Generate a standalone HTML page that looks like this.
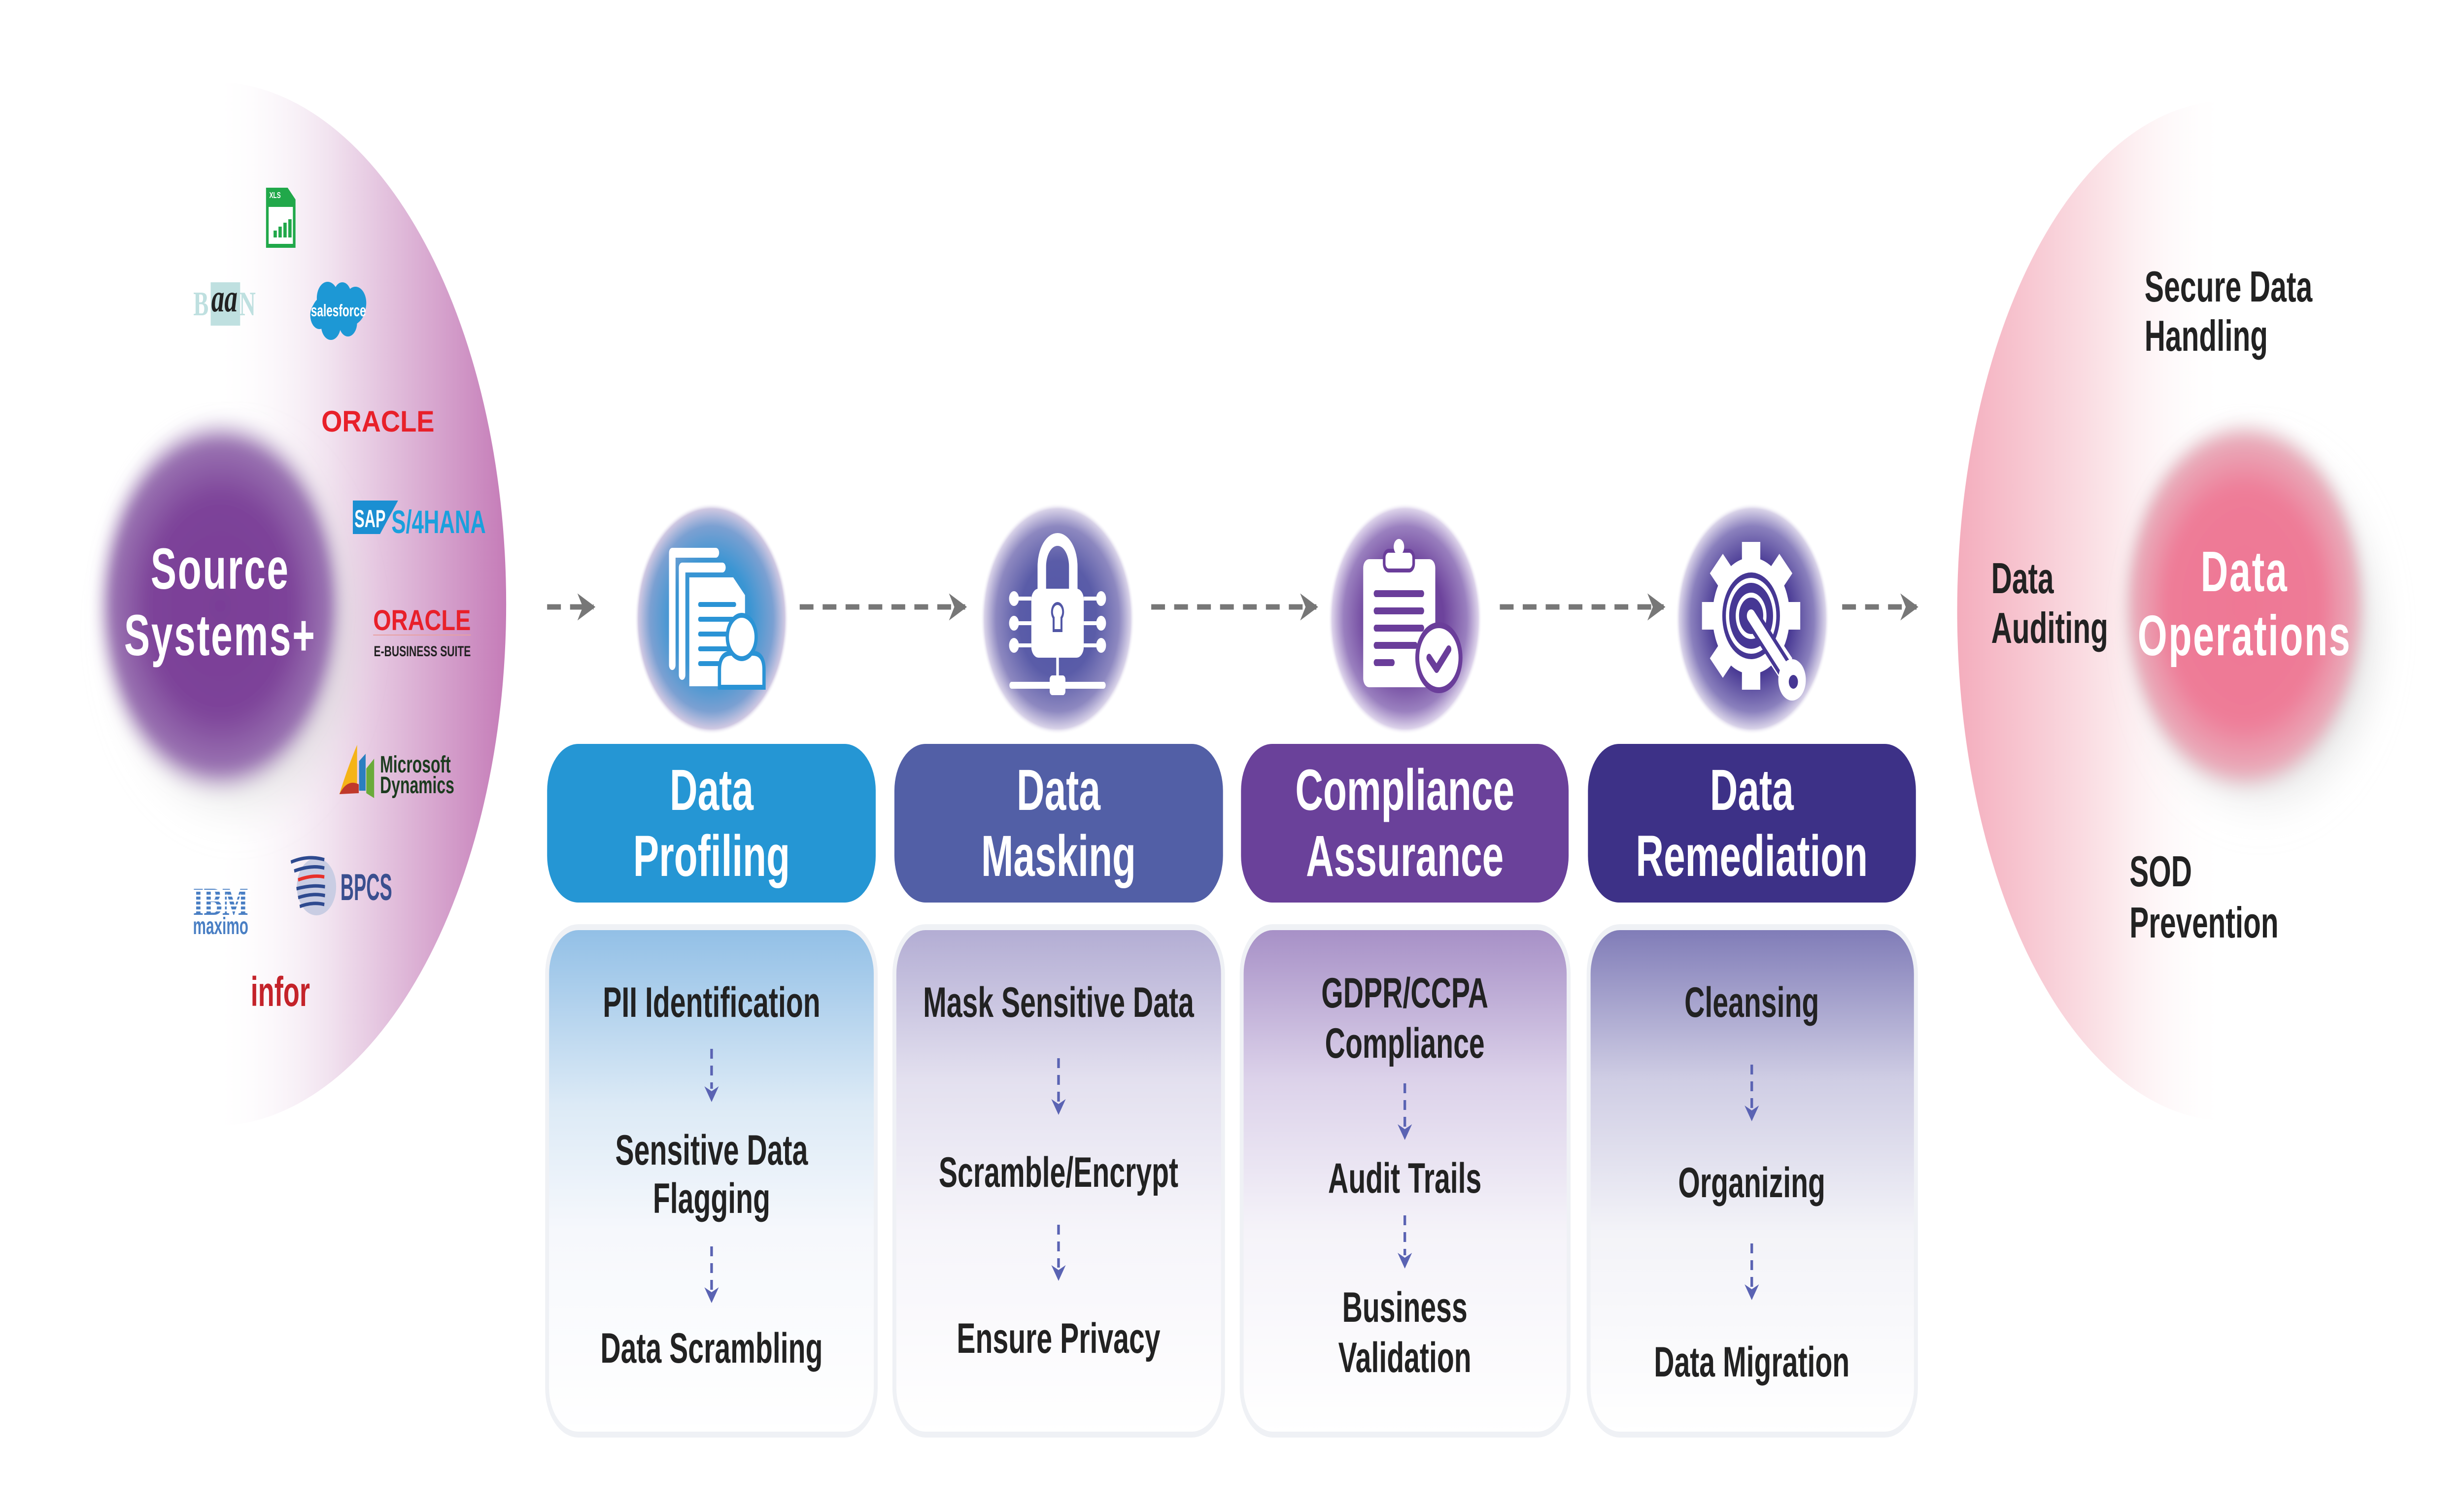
<!DOCTYPE html>
<html><head><meta charset="utf-8"><style>
html,body{margin:0;padding:0;background:#fff;width:100%;height:100%;overflow:hidden;}
svg{display:block;width:100vw;height:100vh;}
text{font-family:"Liberation Sans",sans-serif;font-weight:bold;}
</style></head><body>
<svg viewBox="0 0 7521 3061" preserveAspectRatio="none" xmlns="http://www.w3.org/2000/svg">
<defs>
<linearGradient id="lg" x1="0" y1="0" x2="1" y2="0" gradientUnits="objectBoundingBox">
<stop offset="0" stop-color="#fff" stop-opacity="0"/><stop offset="0.4" stop-color="#f1e2ef"/><stop offset="1" stop-color="#c57cb8"/></linearGradient>
<linearGradient id="rg" x1="0" y1="0" x2="1" y2="0">
<stop offset="0" stop-color="#f4adbd"/><stop offset="0.55" stop-color="#fbe4e8"/><stop offset="1" stop-color="#fff" stop-opacity="0"/></linearGradient>
<radialGradient id="srcG"><stop offset="0" stop-color="#7a3e97"/><stop offset="0.55" stop-color="#7d4399"/><stop offset="0.85" stop-color="#9a74b2"/><stop offset="1" stop-color="#d8cbe0" stop-opacity="0"/></radialGradient>
<radialGradient id="opG"><stop offset="0" stop-color="#ef7895"/><stop offset="0.6" stop-color="#ee7b97"/><stop offset="0.88" stop-color="#e9adbb"/><stop offset="1" stop-color="#e0d8da" stop-opacity="0"/></radialGradient>
<radialGradient id="shG"><stop offset="0.6" stop-color="#c8c8c8" stop-opacity="0.7"/><stop offset="1" stop-color="#ddd" stop-opacity="0"/></radialGradient>
<radialGradient id="c1"><stop offset="0" stop-color="#2a95d6"/><stop offset="0.5" stop-color="#3a95d3"/><stop offset="0.8" stop-color="#7ba0d2"/><stop offset="0.95" stop-color="#cfc8e2"/><stop offset="1" stop-color="#fff" stop-opacity="0"/></radialGradient>
<radialGradient id="c2"><stop offset="0" stop-color="#5257a6"/><stop offset="0.5" stop-color="#5a5ca8"/><stop offset="0.8" stop-color="#8d88c0"/><stop offset="0.95" stop-color="#d8d2e8"/><stop offset="1" stop-color="#fff" stop-opacity="0"/></radialGradient>
<radialGradient id="c3"><stop offset="0" stop-color="#6a3d9a"/><stop offset="0.5" stop-color="#6d439c"/><stop offset="0.8" stop-color="#9a80bf"/><stop offset="0.95" stop-color="#dcd2ea"/><stop offset="1" stop-color="#fff" stop-opacity="0"/></radialGradient>
<radialGradient id="c4"><stop offset="0" stop-color="#433390"/><stop offset="0.5" stop-color="#4a3b95"/><stop offset="0.8" stop-color="#8a80bd"/><stop offset="0.95" stop-color="#d8d2e8"/><stop offset="1" stop-color="#fff" stop-opacity="0"/></radialGradient>
<linearGradient id="b1" x1="0" y1="0" x2="0" y2="1"><stop offset="0" stop-color="#91bfe6"/><stop offset="0.35" stop-color="#dceaf6"/><stop offset="0.6" stop-color="#f6f8fc"/><stop offset="1" stop-color="#fff"/></linearGradient>
<linearGradient id="b2" x1="0" y1="0" x2="0" y2="1"><stop offset="0" stop-color="#b2acd3"/><stop offset="0.3" stop-color="#e3e0ef"/><stop offset="0.6" stop-color="#f6f5fa"/><stop offset="1" stop-color="#fff"/></linearGradient>
<linearGradient id="b3" x1="0" y1="0" x2="0" y2="1"><stop offset="0" stop-color="#a68fc6"/><stop offset="0.3" stop-color="#dcd2ea"/><stop offset="0.6" stop-color="#f5f3f9"/><stop offset="1" stop-color="#fff"/></linearGradient>
<linearGradient id="b4" x1="0" y1="0" x2="0" y2="1"><stop offset="0" stop-color="#7f7bb7"/><stop offset="0.3" stop-color="#cfcde4"/><stop offset="0.6" stop-color="#f3f3f8"/><stop offset="1" stop-color="#fff"/></linearGradient>
<filter id="bl" x="-20%" y="-20%" width="140%" height="140%"><feGaussianBlur stdDeviation="14"/></filter>
<filter id="bl2" x="-30%" y="-30%" width="160%" height="160%"><feGaussianBlur stdDeviation="35"/></filter>
<marker id="ah" viewBox="0 0 10 10" refX="9" refY="5" markerWidth="5" markerHeight="5" orient="auto" markerUnits="strokeWidth"><path d="M0,0 L10,5 L0,10 L3,5 z" fill="#777"/></marker>
</defs>

<path d="M650,166 A895,1060 0 0 1 650,2286 Z" fill="url(#lg)"/>
<path d="M6800,205 A826,1035 0 0 0 6800,2275 Z" fill="url(#rg)"/>

<ellipse cx="720" cy="1280" rx="420" ry="410" fill="url(#shG)" filter="url(#bl2)"/>
<circle cx="672" cy="1230" r="390" fill="url(#srcG)" filter="url(#bl)"/>
<text x="672" y="1195" font-size="118" fill="#fff" text-anchor="middle" letter-spacing="4">Source</text>
<text x="672" y="1330" font-size="118" fill="#fff" text-anchor="middle" letter-spacing="4">Systems+</text>

<g>
<path d="M812,381 H878 L902,405 V503 H812 Z" fill="#21a84a"/>
<rect x="820" y="420" width="74" height="75" fill="#fff"/>
<text x="822" y="402" font-size="18" fill="#fff">XLS</text>
<rect x="835" y="468" width="10" height="14" fill="#21a84a"/><rect x="850" y="460" width="10" height="22" fill="#21a84a"/><rect x="865" y="452" width="10" height="30" fill="#21a84a"/><rect x="880" y="445" width="10" height="37" fill="#21a84a"/>
</g>
<rect x="643" y="573" width="90" height="88" fill="#bfe0e0"/>
<text x="590" y="640" font-size="70" fill="#bfe0e0" font-weight="normal" style="font-family:'Liberation Serif',serif">B</text>
<text x="645" y="632" font-size="80" fill="#222" font-style="italic" font-weight="normal" style="font-family:'Liberation Serif',serif">aa</text>
<text x="730" y="640" font-size="70" fill="#bfe0e0" font-weight="normal" style="font-family:'Liberation Serif',serif">N</text>
<g fill="#1d98d5">
<ellipse cx="1033" cy="630" rx="80" ry="38"/><circle cx="1000" cy="605" r="33"/><circle cx="1045" cy="600" r="27"/><circle cx="1085" cy="615" r="33"/><circle cx="1062" cy="655" r="28"/><circle cx="1010" cy="660" r="30"/><circle cx="975" cy="640" r="28"/>
</g>
<text x="1033" y="642" font-size="34" fill="#fff" text-anchor="middle" font-weight="normal">salesforce</text>
<text x="981" y="876" font-size="60" fill="#e8202a" textLength="345" lengthAdjust="spacingAndGlyphs" font-weight="normal">ORACLE</text>
<path d="M1077,1016 H1215 L1160,1084 H1077 Z" fill="#1b8fd2"/>
<text x="1082" y="1070" font-size="50" fill="#fff" textLength="95" lengthAdjust="spacingAndGlyphs">SAP</text>
<text x="1195" y="1082" font-size="66" fill="#1aa0dd" textLength="288" lengthAdjust="spacingAndGlyphs">S/4HANA</text>
<text x="1139" y="1279" font-size="58" fill="#e8202a" textLength="298" lengthAdjust="spacingAndGlyphs" font-weight="normal">ORACLE</text>
<rect x="1139" y="1288" width="298" height="2" fill="#e8a0a0"/>
<text x="1141" y="1332" font-size="30" fill="#222" textLength="296" lengthAdjust="spacingAndGlyphs">E-BUSINESS SUITE</text>
<path d="M1036,1612 Q1060,1560 1090,1512 L1090,1605 Z" fill="#f5b417"/>
<path d="M1036,1612 Q1060,1580 1095,1592 L1095,1610 Z" fill="#c0392b"/>
<path d="M1096,1605 L1096,1545 L1116,1530 L1116,1605 Z" fill="#2a7fc0"/>
<path d="M1118,1610 L1118,1560 L1142,1540 L1142,1620 Z" fill="#6aab3a"/>
<text x="1160" y="1568" font-size="48" fill="#1c3b1f" font-weight="normal">Microsoft</text>
<text x="1160" y="1610" font-size="48" fill="#1c3b1f" font-weight="normal">Dynamics</text>
<ellipse cx="966" cy="1800" rx="60" ry="58" fill="#c9cde3"/>
<g stroke="#2e4a8f" stroke-width="7" fill="none"><path d="M888,1750 Q940,1735 990,1745"/><path d="M898,1768 Q950,1755 990,1762"/><path d="M910,1786 Q955,1775 990,1780" stroke="#e8302a"/><path d="M905,1804 Q955,1795 992,1800"/><path d="M910,1822 Q955,1812 992,1818"/><path d="M915,1840 Q955,1830 990,1836"/></g>
<text x="1039" y="1827" font-size="76" fill="#3a4f8f" textLength="158" lengthAdjust="spacingAndGlyphs" font-weight="normal">BPCS</text>
<text x="589" y="1857" font-size="80" fill="#4a7fc4" textLength="169" lengthAdjust="spacingAndGlyphs" style="font-family:'Liberation Serif',serif">IBM</text>
<g fill="#fff"><rect x="585" y="1806" width="180" height="4"/><rect x="585" y="1816" width="180" height="4"/><rect x="585" y="1826" width="180" height="4"/><rect x="585" y="1836" width="180" height="4"/><rect x="585" y="1846" width="180" height="4"/></g>
<text x="589" y="1896" font-size="48" fill="#4a7fc4" textLength="169" lengthAdjust="spacingAndGlyphs" font-weight="normal">maximo</text>
<text x="765" y="2042" font-size="84" fill="#c4232a" textLength="181" lengthAdjust="spacingAndGlyphs">infor</text>

<g stroke="#777" stroke-width="11" stroke-dasharray="42 28" fill="none" marker-end="url(#ah)">
<line x1="1670" y1="1232" x2="1812" y2="1232"/>
<line x1="2441" y1="1232" x2="2946" y2="1232"/>
<line x1="3514" y1="1232" x2="4018" y2="1232"/>
<line x1="4578" y1="1232" x2="5078" y2="1232"/>
<line x1="5623" y1="1232" x2="5850" y2="1232"/>
</g>

<circle cx="2172" cy="1256" r="235" fill="url(#c1)"/>
<circle cx="3228" cy="1256" r="235" fill="url(#c2)"/>
<circle cx="4289" cy="1256" r="235" fill="url(#c3)"/>
<circle cx="5349" cy="1256" r="235" fill="url(#c4)"/>

<g>
<path d="M2052,1350 V1122 H2185" stroke="#fff" stroke-width="20" fill="none" stroke-linecap="round" stroke-linejoin="round"/>
<path d="M2082,1370 V1152 H2205" stroke="#fff" stroke-width="20" fill="none" stroke-linecap="round" stroke-linejoin="round"/>
<path d="M2104,1172 H2238 L2274,1208 V1393 H2104 Z" fill="#fff"/>
<g stroke="#2a93d5" stroke-width="10" stroke-linecap="round"><line x1="2136" y1="1227" x2="2242" y2="1227"/><line x1="2136" y1="1257" x2="2242" y2="1257"/><line x1="2136" y1="1287" x2="2230" y2="1287"/><line x1="2136" y1="1317" x2="2230" y2="1317"/><line x1="2136" y1="1347" x2="2230" y2="1347"/></g>
<path d="M2196,1395 V1360 Q2196,1326 2232,1326 H2298 Q2332,1326 2332,1360 V1395 Z" fill="#fff" stroke="#2a93d5" stroke-width="10"/>
<circle cx="2264" cy="1293" r="44" fill="#fff" stroke="#2a93d5" stroke-width="10"/>
</g>

<g>
<path d="M3180,1200 V1150 A48,55 0 0 1 3276,1150 V1200" stroke="#fff" stroke-width="26" fill="none"/>
<rect x="3148" y="1195" width="160" height="140" rx="22" fill="#fff"/>
<path d="M3228,1225 a17,17 0 0 1 12,29 v26 h-24 v-26 a17,17 0 0 1 12,-29 z" fill="none" stroke="#5257a6" stroke-width="6"/>
<g stroke="#fff" stroke-width="8" fill="#fff">
<line x1="3100" y1="1215" x2="3148" y2="1215"/><line x1="3100" y1="1265" x2="3148" y2="1265"/><line x1="3100" y1="1310" x2="3148" y2="1310"/>
<line x1="3308" y1="1215" x2="3356" y2="1215"/><line x1="3308" y1="1265" x2="3356" y2="1265"/><line x1="3308" y1="1310" x2="3356" y2="1310"/>
<circle cx="3095" cy="1215" r="11"/><circle cx="3095" cy="1265" r="11"/><circle cx="3095" cy="1310" r="11"/>
<circle cx="3361" cy="1215" r="11"/><circle cx="3361" cy="1265" r="11"/><circle cx="3361" cy="1310" r="11"/>
<line x1="3228" y1="1335" x2="3228" y2="1380"/>
<line x1="3088" y1="1391" x2="3368" y2="1391" stroke-width="14" stroke-linecap="round"/>
<rect x="3208" y="1375" width="40" height="32" rx="4"/>
</g>
</g>

<g>
<rect x="4161" y="1135" width="220" height="260" rx="18" fill="#fff"/>
<rect x="4225" y="1118" width="90" height="40" rx="14" fill="#fff" stroke="#6a3d9a" stroke-width="8"/>
<circle cx="4270" cy="1110" r="16" fill="#fff"/>
<g stroke="#6a3d9a" stroke-width="14" stroke-linecap="round"><line x1="4200" y1="1205" x2="4340" y2="1205"/><line x1="4200" y1="1240" x2="4340" y2="1240"/><line x1="4200" y1="1275" x2="4340" y2="1275"/><line x1="4200" y1="1310" x2="4320" y2="1310"/><line x1="4200" y1="1345" x2="4250" y2="1345"/></g>
<circle cx="4392" cy="1335" r="66" fill="#fff" stroke="#6a3d9a" stroke-width="12"/>
<path d="M4362,1335 L4385,1358 L4422,1318" stroke="#6a3d9a" stroke-width="16" fill="none" stroke-linecap="round" stroke-linejoin="round"/>
</g>

<g>
<circle cx="5345" cy="1250" r="118" fill="#fff"/>
<g fill="#fff" transform="translate(5345,1250)">
<rect x="-28" y="-150" width="56" height="60"/><rect x="-28" y="90" width="56" height="60"/><rect x="-150" y="-28" width="60" height="56"/><rect x="90" y="-28" width="60" height="56"/>
<rect x="-28" y="-150" width="56" height="60" transform="rotate(45)"/><rect x="-28" y="-150" width="56" height="60" transform="rotate(135)"/><rect x="-28" y="-150" width="56" height="60" transform="rotate(225)"/><rect x="-28" y="-150" width="56" height="60" transform="rotate(315)"/>
</g>
<circle cx="5345" cy="1250" r="88" fill="#463794"/>
<circle cx="5345" cy="1250" r="72" fill="none" stroke="#fff" stroke-width="10"/>
<circle cx="5345" cy="1250" r="42" fill="none" stroke="#fff" stroke-width="10"/>
<line x1="5345" y1="1250" x2="5460" y2="1370" stroke="#463794" stroke-width="44" stroke-linecap="round"/>
<line x1="5345" y1="1250" x2="5460" y2="1370" stroke="#fff" stroke-width="26" stroke-linecap="round"/>
<circle cx="5470" cy="1380" r="42" fill="#fff"/>
<circle cx="5474" cy="1384" r="14" fill="#463794"/>
</g>

<rect x="1670" y="1510" width="1003" height="322" rx="95" fill="#2596d4"/>
<rect x="2730" y="1510" width="1003" height="322" rx="95" fill="#525fa6"/>
<rect x="3788" y="1510" width="1000" height="322" rx="95" fill="#6a419a"/>
<rect x="4847" y="1510" width="1001" height="322" rx="95" fill="#3d3187"/>
<g font-size="118" fill="#fff" text-anchor="middle">
<text x="2172" y="1644">Data</text><text x="2172" y="1778">Profiling</text>
<text x="3231" y="1644">Data</text><text x="3231" y="1778">Masking</text>
<text x="4288" y="1644">Compliance</text><text x="4288" y="1778">Assurance</text>
<text x="5347" y="1644">Data</text><text x="5347" y="1778">Remediation</text>
</g>

<rect x="1670" y="1882" width="1003" height="1030" rx="95" fill="url(#b1)" stroke="#eff1f5" stroke-width="12"/>
<rect x="2730" y="1882" width="1003" height="1030" rx="95" fill="url(#b2)" stroke="#eff1f5" stroke-width="12"/>
<rect x="3790" y="1882" width="998" height="1030" rx="95" fill="url(#b3)" stroke="#eff1f5" stroke-width="12"/>
<rect x="4849" y="1882" width="999" height="1030" rx="95" fill="url(#b4)" stroke="#eff1f5" stroke-width="12"/>

<g font-size="86" fill="#222" text-anchor="middle">
<text x="2172" y="2064">PII Identification</text>
<text x="2172" y="2364">Sensitive Data</text><text x="2172" y="2462">Flagging</text>
<text x="2172" y="2766">Data Scrambling</text>
<text x="3231" y="2064">Mask Sensitive Data</text>
<text x="3231" y="2409">Scramble/Encrypt</text>
<text x="3231" y="2746">Ensure Privacy</text>
<text x="4288" y="2045">GDPR/CCPA</text><text x="4288" y="2147">Compliance</text>
<text x="4288" y="2421">Audit Trails</text>
<text x="4288" y="2683">Business</text><text x="4288" y="2785">Validation</text>
<text x="5347" y="2064">Cleansing</text>
<text x="5347" y="2430">Organizing</text>
<text x="5347" y="2794">Data Migration</text>
</g>

<g stroke="#5a63b3" stroke-width="8" stroke-dasharray="20 14">
<line x1="2172" y1="2129" x2="2172" y2="2210"/><line x1="2172" y1="2530" x2="2172" y2="2618"/>
<line x1="3231" y1="2148" x2="3231" y2="2236"/><line x1="3231" y1="2486" x2="3231" y2="2573"/>
<line x1="4288" y1="2199" x2="4288" y2="2287"/><line x1="4288" y1="2467" x2="4288" y2="2548"/>
<line x1="5347" y1="2161" x2="5347" y2="2249"/><line x1="5347" y1="2524" x2="5347" y2="2612"/>
</g>
<g fill="#5a63b3">
<path d="M2150,2205 L2172,2237 L2194,2205 L2172,2215 Z"/><path d="M2150,2613 L2172,2645 L2194,2613 L2172,2623 Z"/>
<path d="M3209,2231 L3231,2263 L3253,2231 L3231,2241 Z"/><path d="M3209,2568 L3231,2600 L3253,2568 L3231,2578 Z"/>
<path d="M4266,2282 L4288,2314 L4310,2282 L4288,2292 Z"/><path d="M4266,2543 L4288,2575 L4310,2543 L4288,2553 Z"/>
<path d="M5325,2244 L5347,2276 L5369,2244 L5347,2254 Z"/><path d="M5325,2607 L5347,2639 L5369,2607 L5347,2617 Z"/>
</g>

<ellipse cx="6900" cy="1280" rx="420" ry="400" fill="url(#shG)" filter="url(#bl2)"/>
<circle cx="6851" cy="1230" r="385" fill="url(#opG)" filter="url(#bl)"/>
<text x="6851" y="1200" font-size="116" fill="#fff" text-anchor="middle" letter-spacing="4">Data</text>
<text x="6851" y="1330" font-size="116" fill="#fff" text-anchor="middle" letter-spacing="4">Operations</text>

<g font-size="88" fill="#222">
<text x="6546" y="612" textLength="512" lengthAdjust="spacingAndGlyphs">Secure Data</text>
<text x="6546" y="712">Handling</text>
<text x="6078" y="1204">Data</text>
<text x="6078" y="1305">Auditing</text>
<text x="6500" y="1799">SOD</text>
<text x="6500" y="1903">Prevention</text>
</g>
</svg>
</body></html>
